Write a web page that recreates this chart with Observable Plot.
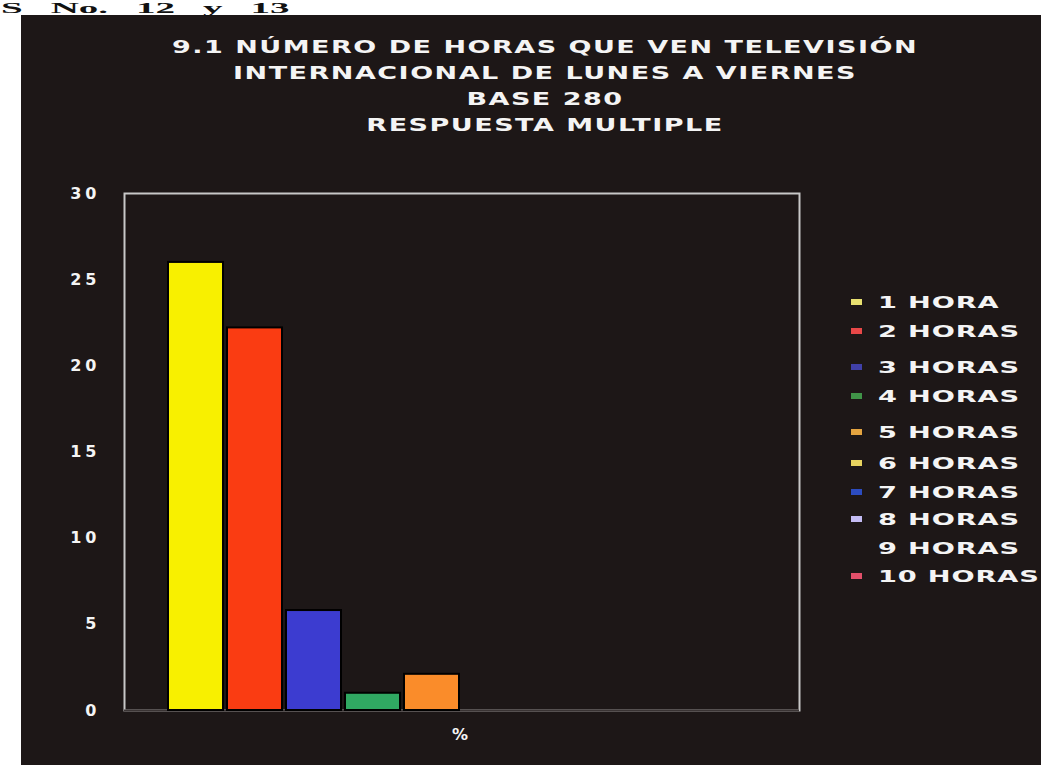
<!DOCTYPE html>
<html><head><meta charset="utf-8">
<script src="https://cdn.jsdelivr.net/npm/d3@7"></script>
<script src="https://cdn.jsdelivr.net/npm/@observablehq/plot@0.6"></script>
<style>
html,body{margin:0;padding:0;background:#fff;overflow:hidden;}
#page{position:relative;width:1041px;height:765px;overflow:hidden;background:#fff;}
#header{position:absolute;left:1px;top:1px;z-index:2;font-family:"Liberation Serif",serif;font-weight:bold;font-size:15px;line-height:15px;color:#111;white-space:nowrap;word-spacing:7px;transform:scaleX(2.6);transform-origin:0 50%;}
#panel{position:absolute;left:21px;top:15px;width:1020px;height:750px;background:#1d1717;z-index:1;}
.tline{position:absolute;left:24px;width:1000px;text-align:center;font-family:"DejaVu Sans",sans-serif;font-weight:bold;font-size:18px;line-height:26px;color:#f4f4f4;letter-spacing:1px;transform:scaleX(1.5);transform-origin:50% 50%;white-space:nowrap;}
#chart{position:absolute;left:0;top:135px;}
.lg{position:absolute;left:830px;height:26px;display:flex;align-items:center;white-space:nowrap;}
.sw{width:11px;height:6px;margin-right:16px;}
.lt{font-family:"DejaVu Sans",sans-serif;font-weight:bold;font-size:16px;color:#f4f4f4;transform:scaleX(1.7);transform-origin:0 50%;letter-spacing:0.5px;}
</style>
</head><body>
<div id="page">
  <div id="header">S No. 12 y 13</div>
  <div id="panel">
    <div id="titles"></div>
    <div id="chart"></div>
    <div id="legend"></div>
  </div>
</div>
<script>
const titleLines = [
  "9.1 NÚMERO DE HORAS QUE VEN TELEVISIÓN",
  "INTERNACIONAL DE LUNES A VIERNES",
  "BASE 280",
  "RESPUESTA MULTIPLE"
];
const hours = ["1 HORA","2 HORAS","3 HORAS","4 HORAS","5 HORAS","6 HORAS","7 HORAS","8 HORAS","9 HORAS","10 HORAS"];
const values = [26.0, 22.2, 5.8, 1.0, 2.1, 0, 0, 0, 0, 0];
const barColors = ["#f8f000","#fa3c12","#3c3cd0","#30a862","#fa8c2a","#f0d850","#2a4cc4","#b8b0f0","#141010","#e04a5c"];
const legendColors = ["#e8e070","#e84848","#4040a8","#409448","#e4a440","#e8d460","#2c4cc0","#c4bcf4","#1d1717","#e2506a"];
const legendRowTops = [274, 303, 339, 368, 404, 435, 464, 491, 520, 548];
const yTicks = [0, 5, 10, 15, 20, 25, 30];
const axisLabel = "%";

// titles
const tdiv = document.getElementById("titles");
titleLines.forEach((t, i) => {
  const d = document.createElement("div");
  d.className = "tline";
  d.style.top = (19 + i * 26) + "px";
  d.textContent = t;
  tdiv.appendChild(d);
});

// legend
const ldiv = document.getElementById("legend");
hours.forEach((h, i) => {
  const row = document.createElement("div");
  row.className = "lg";
  row.style.top = legendRowTops[i] + "px";
  const sw = document.createElement("div");
  sw.className = "sw";
  sw.style.background = legendColors[i];
  const lt = document.createElement("span");
  lt.className = "lt";
  lt.textContent = h;
  row.appendChild(sw);
  row.appendChild(lt);
  ldiv.appendChild(row);
});

const data = hours.map((h, i) => ({hour: h, value: values[i], color: barColors[i]}));

const chart = Plot.plot({
  width: 1020,
  height: 615,
  marginLeft: 103,
  marginRight: 242,
  marginTop: 43,
  marginBottom: 55,
  style: {background: "transparent", color: "#f4f4f4", fontFamily: "DejaVu Sans, sans-serif", fontWeight: "bold", fontSize: "16px", letterSpacing: "4px"},
  x: {domain: hours, paddingInner: 0.06, paddingOuter: 0.73, axis: null},
  y: {domain: [0, 30], ticks: yTicks, label: null, tickSize: 0, tickPadding: 24},
  marks: [
    Plot.frame({stroke: "#c8c8c8", strokeWidth: 2}),
    Plot.ruleY([0], {stroke: "#3a3434", strokeWidth: 2}),
    Plot.barY(data.filter(d => d.value > 0), {x: "hour", y: "value", fill: "color", stroke: "#000", strokeWidth: 2}),
    Plot.text([axisLabel], {text: d => d, frameAnchor: "bottom", dy: 29, fill: "#f4f4f4", fontSize: 16, fontWeight: "bold"})
  ]
});
document.getElementById("chart").appendChild(chart);
</script>
</body></html>
